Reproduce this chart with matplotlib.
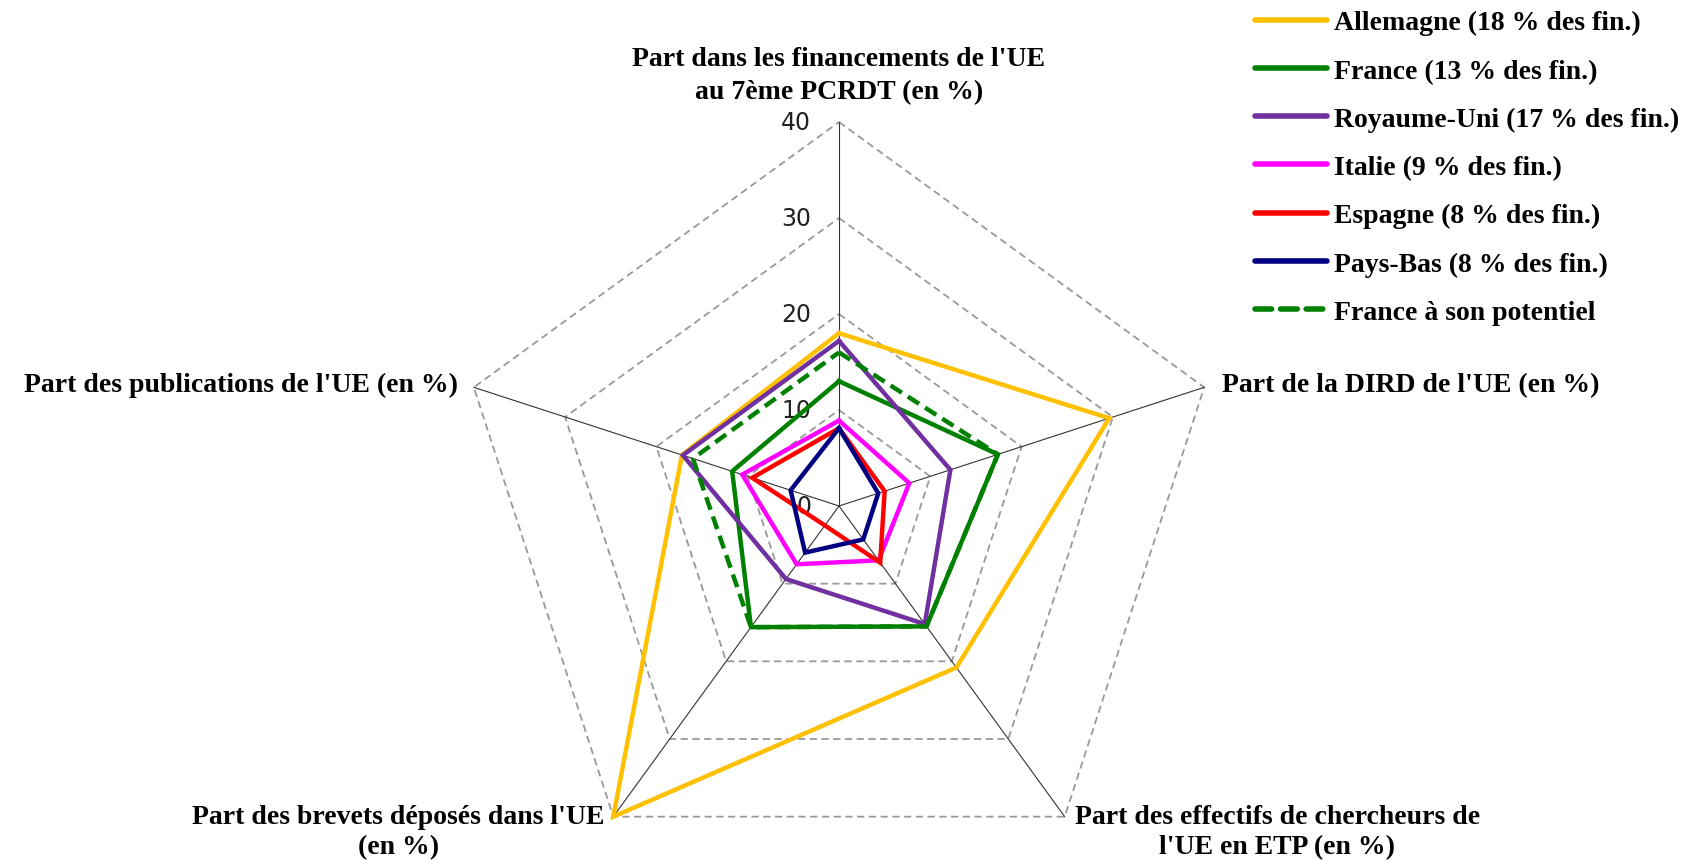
import numpy as np
import matplotlib.pyplot as plt
from matplotlib.lines import Line2D

# axes, clockwise from the top
categories = ["Part dans les financements de l'UE\nau 7ème PCRDT (en %)",
              "Part de la DIRD de l'UE (en %)",
              "Part des effectifs de chercheurs de\nl'UE en ETP (en %)",
              "Part des brevets déposés dans l'UE\n(en %)",
              "Part des publications de l'UE (en %)"]

allemagne = [18.0, 29.6, 20.8, 40.0, 17.2]
france = [13.0, 17.4, 15.5, 15.6, 11.7]
royaume_uni = [17.2, 12.2, 15.2, 9.4, 17.1]
italie = [8.9, 7.7, 7.0, 7.5, 10.6]
espagne = [8.1, 5.0, 7.3, 2.5, 9.5]
pays_bas = [8.1, 4.3, 4.3, 6.0, 5.3]
france_potentiel = [16.0, 17.4, 15.5, 15.6, 16.0]

labels = ["Allemagne (18 % des fin.)", "France (13 % des fin.)",
          "Royaume-Uni (17 % des fin.)", "Italie (9 % des fin.)",
          "Espagne (8 % des fin.)", "Pays-Bas (8 % des fin.)",
          "France à son potentiel"]
colors = ["#FFC000", "#008000", "#7030A0", "#FF00FF", "#FF0000", "#000080", "#008000"]
ticks = [0, 10, 20, 30, 40]

W, H = 1706, 862
fig = plt.figure(figsize=(W / 100, H / 100), dpi=100)
cx, cy, R = 839, 507, 384
ax = fig.add_axes([(cx - R) / W, (H - cy - R) / H, 2 * R / W, 2 * R / H], projection='polar')
ax.set_theta_offset(np.pi / 2)
ax.set_theta_direction(-1)
ax.set_ylim(0, 40)
ax.axis('off')

n = len(categories)
ang = np.linspace(0, 2 * np.pi, n, endpoint=False)
ang_c = np.append(ang, ang[0])

# pentagon grid + spokes
for t in ticks[1:]:
    ax.plot(ang_c, [t] * (n + 1), color='#999999', lw=1.3, ls=(0, (4, 2.5)), clip_on=False, zorder=1)
for a in ang:
    ax.plot([a, a], [0, 40], color='#333333', lw=0.8, clip_on=False, zorder=1)

series = [allemagne, france, royaume_uni, italie, espagne, pays_bas, france_potentiel]
handles = []
for i, (vals, lab, col) in enumerate(zip(series, labels, colors)):
    ls = (0, (3, 1.6)) if i == 6 else '-'
    v = np.append(vals, vals[0])
    ax.plot(ang_c, v, color=col, lw=3.2, ls=ls, clip_on=False, zorder=3 + i,
            solid_joinstyle='miter')
    handles.append(Line2D([], [], color=col, lw=4, ls=ls, solid_capstyle='round',
                          dash_capstyle='round'))

for t in ticks:
    ax.annotate(str(t), xy=(0, t), xytext=(-28, 0), textcoords='offset pixels',
                ha='right', va='center', fontsize=17, family='DejaVu Sans', color='#222222',
                zorder=2)

serif = dict(family='Liberation Serif', fontweight='bold', fontsize=20)
offs = [((0, 47), 'center', 1.41), ((18, 3), 'left', 1.2), ((10, -15), 'left', 1.28),
        ((-9, -15), 'right', 1.28), ((-16, 3), 'right', 1.2)]
for a, lab, (off, ha, lsp) in zip(ang, categories, offs):
    ax.annotate(lab, xy=(a, 40), xytext=off, textcoords='offset pixels', linespacing=lsp,
                ha=ha, va='center', multialignment='center', annotation_clip=False, **serif)

fig.legend(handles, labels, loc='upper left', bbox_to_anchor=(1255 / W, 1 - 11 / H),
           frameon=False, borderpad=0, borderaxespad=0,
           handlelength=2.6, handletextpad=0.25, labelspacing=0.82,
           prop=dict(family='Liberation Serif', weight='bold', size=20))

fig.savefig('out.png', dpi=100)
